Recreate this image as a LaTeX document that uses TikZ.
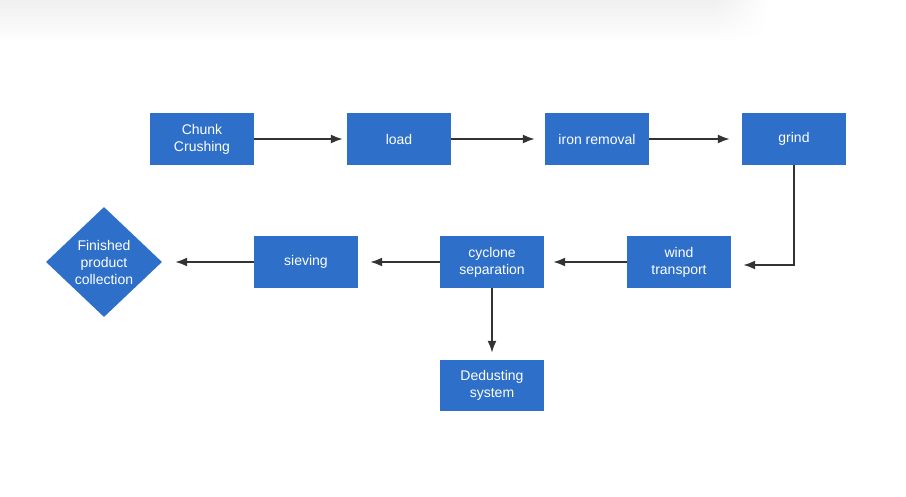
\documentclass[tikz,border=0pt]{standalone}
\usepackage{fontspec}
\setmainfont{Liberation Sans}
\usetikzlibrary{shapes.geometric,arrows.meta,fadings}
\definecolor{stepblue}{RGB}{46,112,201}
\definecolor{arrowgray}{RGB}{51,51,51}
\tikzset{
	stepbox/.style={rectangle, fill=stepblue, text=white, minimum width=104pt, minimum height=52pt, inner sep=0pt, align=center, font=\fontsize{14}{17}\selectfont},
	endbox/.style={diamond, fill=stepblue, text=white, minimum width=116pt, minimum height=110pt, inner sep=0pt, align=center, font=\fontsize{14}{17}\selectfont},
	flow/.style={draw=arrowgray, line width=1.8pt, -{Latex[length=12pt,width=9pt]}}
}
\begin{document}
\begin{tikzpicture}[x=1pt,y=1pt]
	\useasboundingbox (0,0) rectangle (906,-497);
	% soft shadow along the top
	\shade[top color=black!6, bottom color=white] (0,0) rectangle (715,-42);
	\shade[top color=black!6, bottom color=white, path fading=east] (715,0) rectangle (770,-42);
	
	\node[stepbox] at (202,-139) (chunk) {Chunk\\Crushing};
	\node[stepbox] at (399,-139) (load) {load};
	\node[stepbox] at (597,-139) (iron) {iron removal};
	\node[stepbox] at (794,-139) (grind) {grind};
	\node[stepbox] at (679,-262) (wind) {wind\\transport};
	\node[stepbox] at (492,-262) (cyclone) {cyclone\\separation};
	\node[stepbox] at (306,-262) (sieving) {sieving};
	\node[endbox] at (104,-262) (finished) {Finished\\product\\collection};
	\node[stepbox, minimum height=51pt] at (492,-385.5) (dedusting) {Dedusting\\system};
	
	\draw[flow, shorten >=4pt] (chunk)--(load);
	\draw[flow, shorten >=10pt] (load)--(iron);
	\draw[flow, shorten >=12pt] (iron)--(grind);
	\draw[flow, shorten >=12pt] (grind.south) |- ([yshift=-3pt]wind.east);
	\draw[flow, shorten >=9pt] (wind)--(cyclone);
	\draw[flow, shorten >=12pt] (cyclone)--(sieving);
	\draw[flow, shorten >=13pt] (sieving)--(finished);
	\draw[flow, shorten >=7pt] (cyclone)--(dedusting);
\end{tikzpicture}
\end{document}
